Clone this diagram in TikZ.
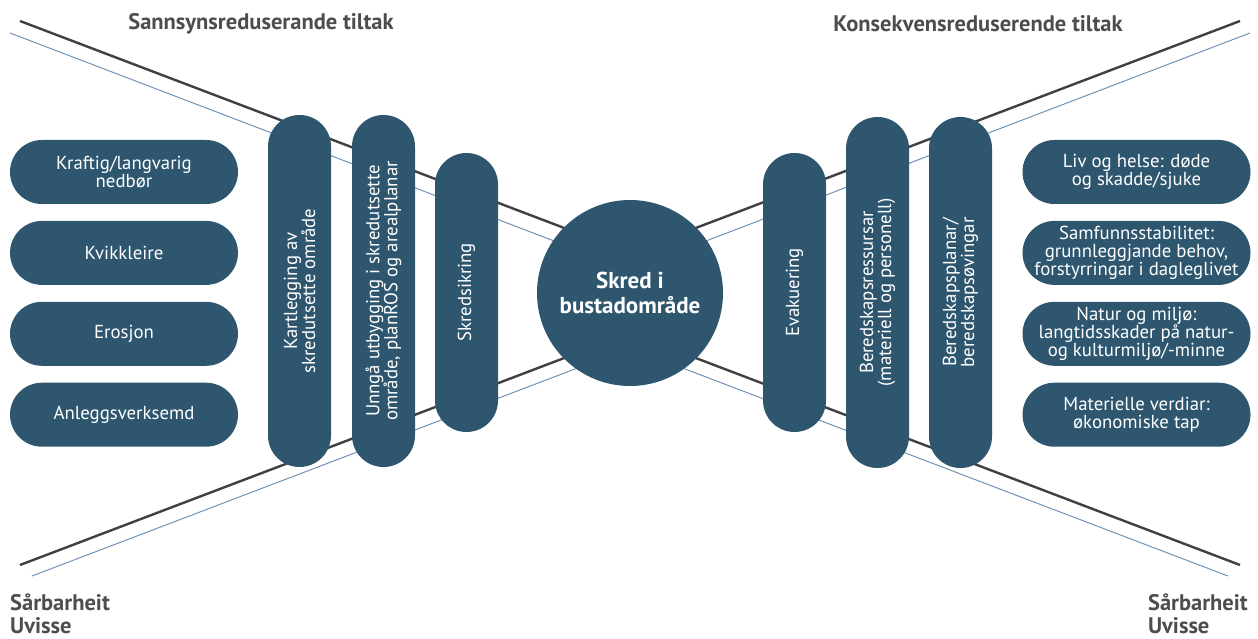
\documentclass[tikz,border=0pt]{standalone}
\usepackage{fontspec}
\setmainfont{PT Sans}
\usetikzlibrary{positioning}

\definecolor{boxblue}{RGB}{46,86,110}
\definecolor{linedark}{RGB}{64,64,66}
\definecolor{lineblue}{RGB}{112,146,180}
\definecolor{headgrey}{RGB}{77,77,79}

\begin{document}
\begin{tikzpicture}[x=1pt, y=-1pt,
	pill/.style = {fill=boxblue, text=white, rounded corners=32pt, minimum width=228pt, minimum height=64pt, inner sep=0pt, align=center, font=\fontsize{18.8}{18}\selectfont},
	bar/.style = {pill, rotate=90, minimum height=63pt, rounded corners=31.5pt},
	heading/.style = {text=headgrey, inner sep=0pt, font=\fontsize{22.5}{23}\selectfont\bfseries},
	darkline/.style = {linedark, line width=2.4pt},
	blueline/.style = {lineblue, line width=1pt}]

	\useasboundingbox (0,0) rectangle (1258,639);

	\coordinate (dtl) at (20,21);
	\coordinate (dbl) at (20,565);
	\coordinate (dtr) at (1240,21);
	\coordinate (dbr) at (1240,565);
	\coordinate (btl) at (10,33);
	\coordinate (bbl) at (32,576);
	\coordinate (btr) at (1250,33);
	\coordinate (bbr) at (1228,576);
	\coordinate (dmt) at (630,253);
	\coordinate (dmb) at (630,333);
	\coordinate (bmt) at (630,270);
	\coordinate (bmb) at (630,348);

	\draw [blueline] (btl) -- (bmt) -- (btr);
	\draw [blueline] (bbl) -- (bmb) -- (bbr);
	\draw [darkline] (dtl) -- (dmt) -- (dtr);
	\draw [darkline] (dbl) -- (dmb) -- (dbr);

	\node [bar, minimum width=352pt] (kart) at (299.5,291) {Kartlegging av\\skredutsette område};
	\node [bar, minimum width=352pt] (unnga) at (383.5,291) {Unngå utbygging i skredutsette\\område, planROS og arealplanar};
	\node [bar, minimum width=279pt] (sikring) at (466.5,292.5) {Skredsikring};
	\node [bar, minimum width=279pt] (evak) at (794.5,292.5) {Evakuering};
	\node [bar, minimum width=351pt] (ressurs) at (877.5,292.5) {Beredskapsressursar\\(materiell og personell)};
	\node [bar, minimum width=351pt] (plan) at (960.5,292.5) {Beredskapsplanar/\\beredskapsøvingar};

	\node [pill] (nedbor) at (124,172) {Kraftig/langvarig\\nedbør};
	\node [pill, below=16.5pt of nedbor] (kvikk) {Kvikkleire};
	\node [pill, below=16.5pt of kvikk] (erosjon) {Erosjon};
	\node [pill, below=16.5pt of erosjon] (anlegg) {Anleggsverksemd};

	\node [pill] (liv) at (1136.5,172) {Liv og helse: døde\\og skadde/sjuke};
	\node [pill, below=16.5pt of liv] (samf) {Samfunnsstabilitet:\\grunnleggjande behov,\\forstyrringar i dagleglivet};
	\node [pill, below=16.5pt of samf] (natur) {Natur og miljø:\\langtidsskader på natur-\\og kulturmiljø/-minne};
	\node [pill, below=16.5pt of natur] (materiell) {Materielle verdiar:\\økonomiske tap};

	\node [circle, fill=boxblue, text=white, minimum size=186pt, inner sep=0pt, align=center, font=\fontsize{23}{25}\selectfont\bfseries] (skred) at (630,293) {Skred i\\bustadområde};

	\node [heading] (sannsyn) at (261,24) {Sannsynsreduserande tiltak};
	\node [heading] (konsekv) at (978,24) {Konsekvensreduserende tiltak};
	\node [heading, anchor=north west, align=left] (sarbv) at (10,594) {Sårbarheit\\Uvisse};
	\node [heading, anchor=north east, align=left] (sarbh) at (1248,594) {Sårbarheit\\Uvisse};
\end{tikzpicture}
\end{document}
